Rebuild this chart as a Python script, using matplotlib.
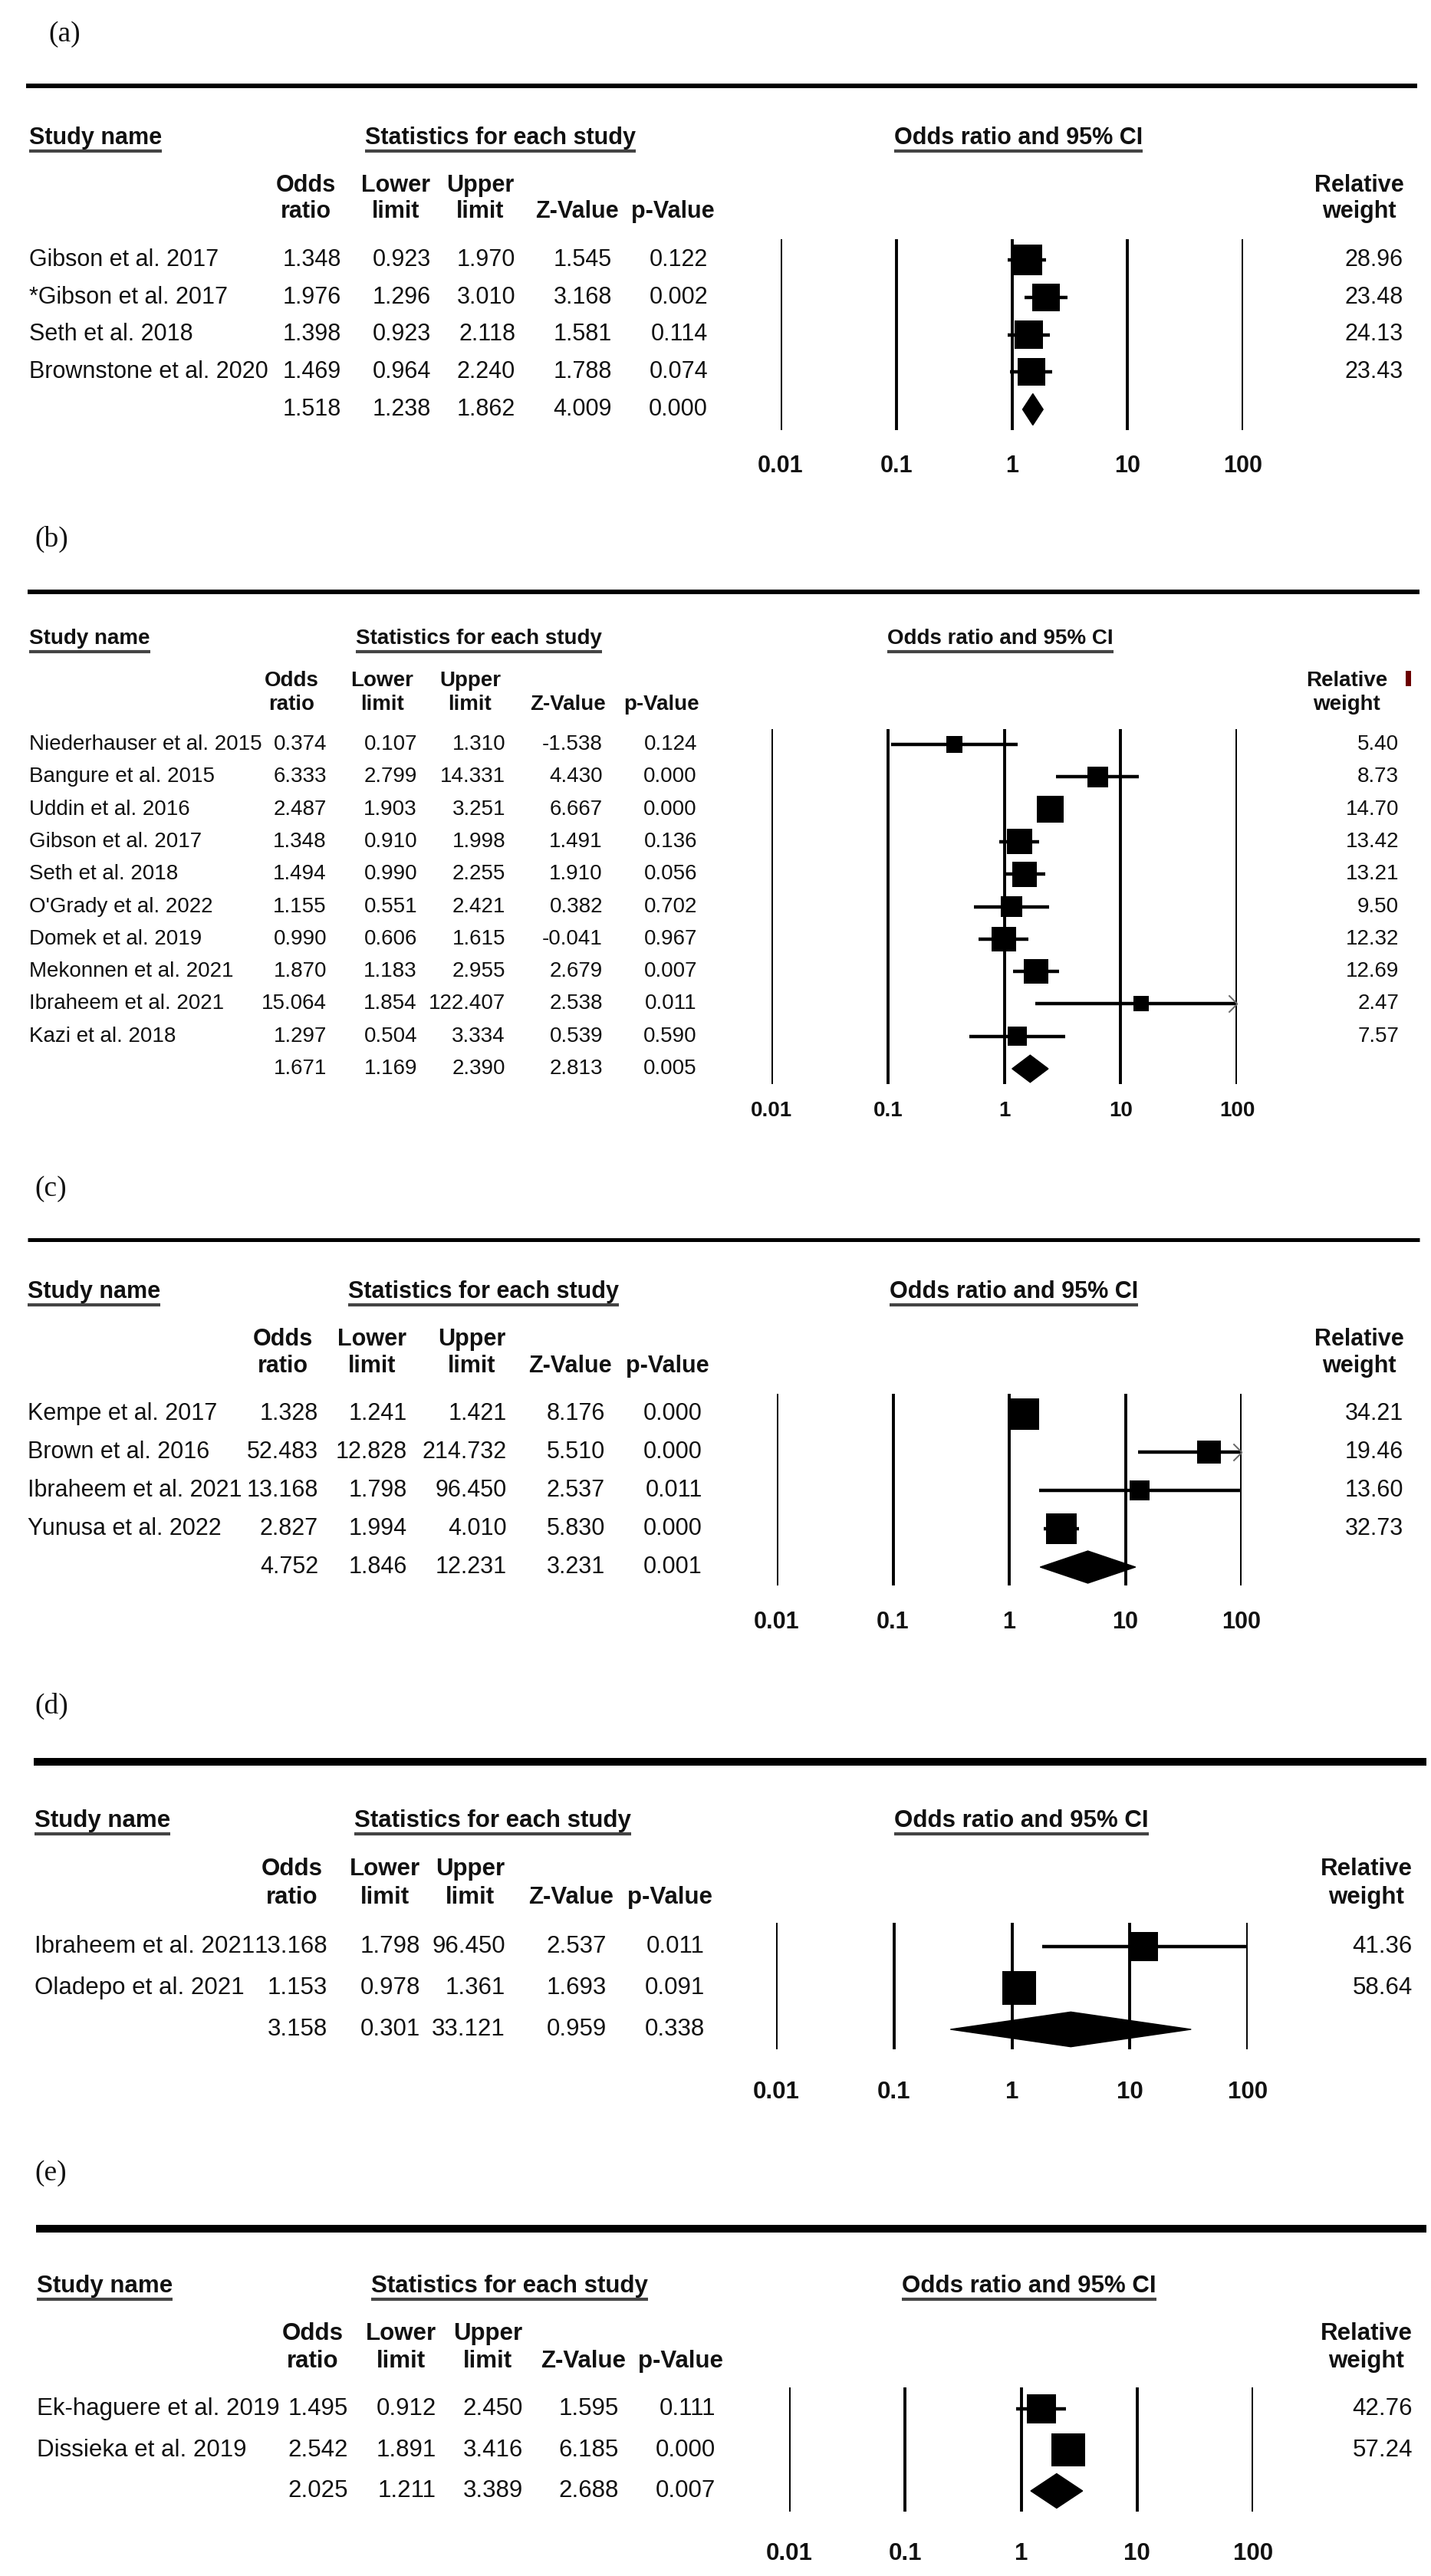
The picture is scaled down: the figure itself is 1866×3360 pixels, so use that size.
import numpy as np
import matplotlib
matplotlib.use("Agg")
import matplotlib.pyplot as plt
from matplotlib.lines import Line2D
from matplotlib.patches import Polygon, Rectangle
from matplotlib.path import Path
from matplotlib.transforms import blended_transform_factory

# -----------------------
# DATA
# -----------------------
a_names = ["Gibson et al. 2017", "*Gibson et al. 2017", "Seth et al. 2018", "Brownstone et al. 2020"]
a_or = [1.348, 1.976, 1.398, 1.469]
a_lo = [0.923, 1.296, 0.923, 0.964]
a_hi = [1.970, 3.010, 2.118, 2.240]
a_z = [1.545, 3.168, 1.581, 1.788]
a_p = [0.122, 0.002, 0.114, 0.074]
a_w = [28.96, 23.48, 24.13, 23.43]
a_sum = [1.518, 1.238, 1.862, 4.009, 0.000]

b_names = ["Niederhauser et al. 2015", "Bangure et al. 2015", "Uddin et al. 2016", "Gibson et al. 2017",
           "Seth et al. 2018", "O'Grady et al. 2022", "Domek et al. 2019", "Mekonnen et al. 2021",
           "Ibraheem et al. 2021", "Kazi et al. 2018"]
b_or = [0.374, 6.333, 2.487, 1.348, 1.494, 1.155, 0.990, 1.870, 15.064, 1.297]
b_lo = [0.107, 2.799, 1.903, 0.910, 0.990, 0.551, 0.606, 1.183, 1.854, 0.504]
b_hi = [1.310, 14.331, 3.251, 1.998, 2.255, 2.421, 1.615, 2.955, 122.407, 3.334]
b_z = [-1.538, 4.430, 6.667, 1.491, 1.910, 0.382, -0.041, 2.679, 2.538, 0.539]
b_p = [0.124, 0.000, 0.000, 0.136, 0.056, 0.702, 0.967, 0.007, 0.011, 0.590]
b_w = [5.40, 8.73, 14.70, 13.42, 13.21, 9.50, 12.32, 12.69, 2.47, 7.57]
b_sum = [1.671, 1.169, 2.390, 2.813, 0.005]

c_names = ["Kempe et al. 2017", "Brown et al. 2016", "Ibraheem et al. 2021", "Yunusa et al. 2022"]
c_or = [1.328, 52.483, 13.168, 2.827]
c_lo = [1.241, 12.828, 1.798, 1.994]
c_hi = [1.421, 214.732, 96.450, 4.010]
c_z = [8.176, 5.510, 2.537, 5.830]
c_p = [0.000, 0.000, 0.011, 0.000]
c_w = [34.21, 19.46, 13.60, 32.73]
c_sum = [4.752, 1.846, 12.231, 3.231, 0.001]

d_names = ["Ibraheem et al. 2021", "Oladepo et al. 2021"]
d_or = [13.168, 1.153]
d_lo = [1.798, 0.978]
d_hi = [96.450, 1.361]
d_z = [2.537, 1.693]
d_p = [0.011, 0.091]
d_w = [41.36, 58.64]
d_sum = [3.158, 0.301, 33.121, 0.959, 0.338]

e_names = ["Ek-haguere et al. 2019", "Dissieka et al. 2019"]
e_or = [1.495, 2.542]
e_lo = [0.912, 1.891]
e_hi = [2.450, 3.416]
e_z = [1.595, 6.185]
e_p = [0.111, 0.000]
e_w = [42.76, 57.24]
e_sum = [2.025, 1.211, 3.389, 2.688, 0.007]

ticks = [0.01, 0.1, 1, 10, 100]
tick_labels = ["0.01", "0.1", "1", "10", "100"]
col_heads = [("Odds", "ratio"), ("Lower", "limit"), ("Upper", "limit"), ("", "Z-Value"), ("", "p-Value")]

# -----------------------
# LAYOUT (pixels from top-left)
# -----------------------
W, H = 1866, 3360
TXT = "#111111"

layouts = [
    dict(lab_x=63, lab_y=45, rule_y=112, rule_x0=34, rule_x1=1848, rule_w=6, head_y=180, h1=242, h2=276,
         row0=339, step=48.75, vtop=312, vbot=561, tick_y=608, x001=1018, x100=1621,
         study_x=38, stats_x=476, orci_x=1166, cols=[445, 562, 672, 798, 923], wr=1830, rel_c=1772, fs=22),
    dict(lab_x=45, lab_y=703, rule_y=772, rule_x0=36, rule_x1=1851, rule_w=6, head_y=833, h1=888, h2=919,
         row0=971, step=42.3, vtop=951, vbot=1414, tick_y=1449, x001=1006, x100=1613,
         study_x=38, stats_x=464, orci_x=1157, cols=[426, 544, 659, 786, 909], wr=1824, rel_c=1756, fs=20),
    dict(lab_x=45, lab_y=1551, rule_y=1617, rule_x0=36, rule_x1=1851, rule_w=5, head_y=1685, h1=1747, h2=1782,
         row0=1844, step=50, vtop=1818, vbot=2068, tick_y=2116, x001=1013, x100=1619,
         study_x=36, stats_x=454, orci_x=1160, cols=[415, 531, 661, 789, 916], wr=1830, rel_c=1772, fs=22),
    dict(lab_x=45, lab_y=2225, rule_y=2298, rule_x0=44, rule_x1=1860, rule_w=10, head_y=2375, h1=2438, h2=2475,
         row0=2539, step=54, vtop=2508, vbot=2673, tick_y=2729, x001=1012, x100=1627,
         study_x=45, stats_x=462, orci_x=1166, cols=[427, 548, 659, 791, 919], wr=1842, rel_c=1782, fs=22.5),
    dict(lab_x=45, lab_y=2835, rule_y=2907, rule_x0=47, rule_x1=1860, rule_w=10, head_y=2982, h1=3044, h2=3080,
         row0=3142, step=53.5, vtop=3114, vbot=3276, tick_y=3331, x001=1029, x100=1634,
         study_x=48, stats_x=484, orci_x=1176, cols=[454, 569, 682, 807, 933], wr=1842, rel_c=1782, fs=22.5),
]

panels = [
    ("(a)", a_names, a_or, a_lo, a_hi, a_z, a_p, a_w, a_sum),
    ("(b)", b_names, b_or, b_lo, b_hi, b_z, b_p, b_w, b_sum),
    ("(c)", c_names, c_or, c_lo, c_hi, c_z, c_p, c_w, c_sum),
    ("(d)", d_names, d_or, d_lo, d_hi, d_z, d_p, d_w, d_sum),
    ("(e)", e_names, e_or, e_lo, e_hi, e_z, e_p, e_w, e_sum),
]


def fx(x):
    return x / W


def fy(y):
    return 1 - y / H


plt.rcParams["font.family"] = ["Liberation Sans", "DejaVu Sans"]
fig = plt.figure(figsize=(W / 100, H / 100), dpi=100)
fig.patch.set_facecolor("white")

chevron = Path([(-1, 1), (0, 0), (-1, -1)], [Path.MOVETO, Path.LINETO, Path.LINETO])
underlines = []

for (label, names, odds, lower, upper, zval, pval, weight, summary), L in zip(panels, layouts):
    fs = L["fs"]

    # panel letter and rule
    fig.text(fx(L["lab_x"]), fy(L["lab_y"]), label, family="Liberation Serif", fontsize=27,
             ha="left", va="center", color=TXT)
    fig.add_artist(Line2D([fx(L["rule_x0"]), fx(L["rule_x1"])], [fy(L["rule_y"])] * 2,
                          lw=L["rule_w"] * 0.72, color="black", solid_capstyle="butt"))

    # section headers
    for x, s in [(L["study_x"], "Study name"), (L["stats_x"], "Statistics for each study"),
                 (L["orci_x"], "Odds ratio and 95% CI")]:
        t = fig.text(fx(x), fy(L["head_y"]), s, fontsize=fs, weight="bold", ha="left", va="center", color=TXT)
        underlines.append((t, L["head_y"] + 17))

    # column headers
    for right, (l1, l2) in zip(L["cols"], col_heads):
        c = right - 46
        if l1:
            fig.text(fx(c), fy(L["h1"]), l1, fontsize=fs, weight="bold", ha="center", va="center", color=TXT)
        fig.text(fx(c), fy(L["h2"]), l2, fontsize=fs, weight="bold", ha="center", va="center", color=TXT)
    fig.text(fx(L["rel_c"]), fy(L["h1"]), "Relative", fontsize=fs, weight="bold", ha="center", va="center", color=TXT)
    fig.text(fx(L["rel_c"]), fy(L["h2"]), "weight", fontsize=fs, weight="bold", ha="center", va="center", color=TXT)

    # forest axes
    n = len(names) + 1
    step = L["step"]
    ax = fig.add_axes([fx(L["x001"]), fy(L["vbot"]), (L["x100"] - L["x001"]) / W, (L["vbot"] - L["vtop"]) / H])
    ax.set_xscale("log")
    ax.set_xlim(0.01, 100)
    ax.set_ylim((L["vbot"] - L["row0"]) / step, (L["vtop"] - L["row0"]) / step)
    ax.axis("off")
    for t in ticks:
        ax.axvline(t, color="black", lw=2.8, zorder=1)

    trx = blended_transform_factory(ax.transData, fig.transFigure)
    for t, s in zip(ticks, tick_labels):
        ax.text(t, fy(L["tick_y"]), s, transform=trx, fontsize=fs, weight="bold",
                ha="center", va="center", color=TXT)

    # rows of the table
    tr = blended_transform_factory(fig.transFigure, ax.transData)
    idx = np.arange(len(names))
    for i in idx:
        ax.text(fx(L["study_x"]), i, names[i], transform=tr, fontsize=fs, ha="left", va="center", color=TXT)
        vals = [odds[i], lower[i], upper[i], zval[i], pval[i]]
        for right, v in zip(L["cols"], vals):
            ax.text(fx(right), i, f"{v:.3f}", transform=tr, fontsize=fs, ha="right", va="center", color=TXT)
        ax.text(fx(L["wr"]), i, f"{weight[i]:.2f}", transform=tr, fontsize=fs, ha="right", va="center", color=TXT)
    for right, v in zip(L["cols"], summary):
        ax.text(fx(right), n - 1, f"{v:.3f}", transform=tr, fontsize=fs, ha="right", va="center", color=TXT)

    # confidence intervals
    hi_clip = np.minimum(upper, 100)
    ax.hlines(idx, lower, hi_clip, color="black", lw=3.2, zorder=2)
    for i in idx:
        if upper[i] > 100:
            ax.plot(100, i, marker=chevron, ms=16, mfc="none", mec="#666666", mew=1.4, zorder=3)

    # study squares, area proportional to weight
    w = np.array(weight)
    smax = 0.82 * step
    side = np.maximum(20, smax * np.sqrt(w / w.max()))
    ax.scatter(odds, idx, s=(side * 0.72) ** 2, marker="s", c="black", linewidths=0, zorder=4)

    # summary diamond
    est, lo, hi = summary[0], summary[1], summary[2]
    hh = 0.42
    ax.add_patch(Polygon([(lo, n - 1), (est, n - 1 - hh), (hi, n - 1), (est, n - 1 + hh)],
                         closed=True, color="black", zorder=4))

# small red mark next to the weight header of panel (b)
fig.add_artist(Rectangle((fx(1833), fy(895)), 7 / W, 20 / H, transform=fig.transFigure,
                         color="#6b0000", lw=0))

# underline the section headers
fig.canvas.draw()
renderer = fig.canvas.get_renderer()
for t, ypx in underlines:
    bb = t.get_window_extent(renderer)
    fig.add_artist(Line2D([bb.x0 / W, bb.x1 / W], [fy(ypx)] * 2, lw=3.0, color="#444444",
                          solid_capstyle="butt"))

fig.savefig("out.png", dpi=100, facecolor="white")
